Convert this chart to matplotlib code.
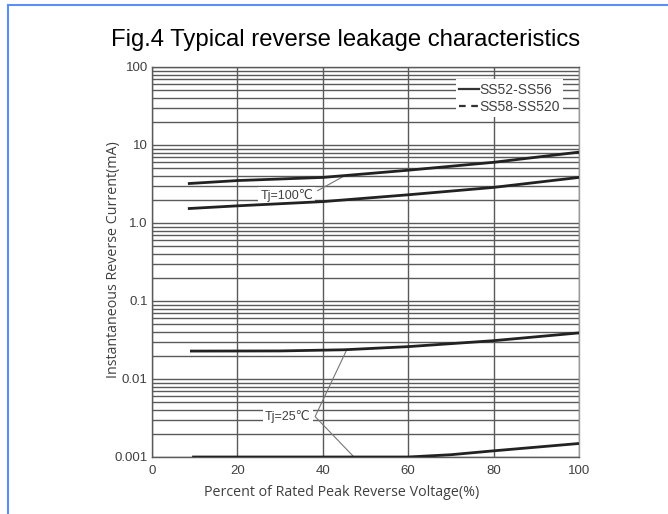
import matplotlib
matplotlib.use("Agg")
import matplotlib.pyplot as plt
from matplotlib.lines import Line2D
from matplotlib.ticker import FixedLocator, NullFormatter

# curves: percent of rated voltage vs current (mA)
hot_a_x = [8.4, 20, 40, 60, 80, 100]
hot_a_y = [3.2, 3.5, 3.84, 4.75, 6.0, 8.1]
hot_b_x = [8.4, 20, 40, 60, 80, 100]
hot_b_y = [1.53, 1.66, 1.88, 2.3, 2.86, 3.84]
cold_a_x = [8.9, 30, 45, 60, 80, 100]
cold_a_y = [0.0228, 0.0229, 0.0237, 0.026, 0.031, 0.039]
cold_b_x = [9.4, 50, 60, 70, 80, 100]
cold_b_y = [0.001, 0.001, 0.001, 0.00107, 0.0012, 0.00149]

x_ticks = [0, 20, 40, 60, 80, 100]
y_ticks = [0.001, 0.01, 0.1, 1, 10, 100]
y_labels = ["0.001", "0.01", "0.1", "1.0", "10", "100"]
series_names = ["SS52-SS56", "SS58-SS520"]

grid_c = "#5a5a5a"
txt_c = "#404040"
curve_c = "#222222"

fig = plt.figure(figsize=(6.68, 5.14), dpi=100)
ax = fig.add_axes([152 / 668, 1 - 457 / 514, 427 / 668, 390 / 514])

ax.set_yscale("log")
ax.set_xlim(0, 100)
ax.set_ylim(0.001, 100)

minor = [m * 10.0 ** e for e in range(-3, 2) for m in range(2, 10)]
ax.yaxis.set_minor_locator(FixedLocator(minor))
ax.yaxis.set_minor_formatter(NullFormatter())
ax.set_yticks(y_ticks)
ax.set_yticklabels(y_labels)
ax.set_xticks(x_ticks)
ax.tick_params(which="both", length=0, labelsize=9.5, colors=txt_c)
ax.tick_params(axis="x", pad=6)
ax.tick_params(axis="y", pad=3)
for lab in ax.get_xticklabels() + ax.get_yticklabels():
    lab.set_family("Liberation Sans")

ax.grid(True, which="major", color=grid_c, lw=1.0)
ax.grid(True, which="minor", axis="y", color=grid_c, lw=1.0)
for s in ax.spines.values():
    s.set_color(grid_c)
    s.set_linewidth(1.0)
ax.spines["right"].set_color("#9a9a9a")

ax.plot(hot_a_x, hot_a_y, color=curve_c, lw=2, solid_capstyle="butt", zorder=3)
ax.plot(hot_b_x, hot_b_y, color=curve_c, lw=2, solid_capstyle="butt", zorder=3)
ax.plot(cold_a_x, cold_a_y, color=curve_c, lw=2, solid_capstyle="butt", zorder=3)
ax.plot(cold_b_x, cold_b_y, color=curve_c, lw=2, solid_capstyle="butt", zorder=3)

# temperature labels with leader lines
lead = dict(color="#777777", lw=0.8, zorder=2.5)
box = dict(facecolor="white", edgecolor="none", pad=1.5)
ax.text(31.6, 2.25, "Tj=100\u2103", ha="center", va="center", fontsize=9,
        color=txt_c, bbox=box, family=["Liberation Sans", "DejaVu Sans"], zorder=2)
ax.plot([38.8, 44.7], [2.6, 3.92], **lead)
ax.text(31.8, 0.0033, "Tj=25\u2103", ha="center", va="center", fontsize=9,
        color=txt_c, bbox=box, family=["Liberation Sans", "DejaVu Sans"], zorder=2)
ax.plot([45.6, 38.2, 47.3], [0.0237, 0.0033, 0.001], **lead)

handles = [Line2D([], [], color="#333333", lw=1.6),
           Line2D([], [], color="#333333", lw=1.6, ls=(0, (3, 2.5)))]
leg = ax.legend(handles, series_names, loc="upper left", bbox_to_anchor=(0.712, 0.968),
                frameon=True, fancybox=False, borderpad=0.25, handlelength=1.4,
                handletextpad=0.0, labelspacing=0.2, borderaxespad=0,
                prop={"family": "Liberation Sans", "size": 10})
leg.get_frame().set_edgecolor("none")
leg.get_frame().set_facecolor("white")
leg.get_frame().set_alpha(1)
for t in leg.get_texts():
    t.set_color(txt_c)

ax.set_xlabel("Percent of Rated Peak Reverse Voltage(%)", family="Open Sans",
              fontsize=10.3, color=txt_c)
ax.xaxis.set_label_coords((342 - 152) / 427, -(492 - 457) / 390)
ax.set_ylabel("Instantaneous Reverse Current(mA)", family="Open Sans",
              fontsize=10.3, color=txt_c)
ax.yaxis.set_label_coords(-(152 - 113) / 427, (457 - 260) / 390)
ax.xaxis.label.set_va("center")
ax.yaxis.label.set_va("center")

fig.text(346 / 668, 1 - 40 / 514, "Fig.4 Typical reverse leakage characteristics",
         ha="center", va="center", fontsize=17.2, family="Liberation Sans", color="black")

# blue frame around the picture
blue = "#5b8ff5"
fig.add_artist(Line2D([8 / 668, 1], [1 - 5 / 514, 1 - 5 / 514], color=blue, lw=1.5,
                      transform=fig.transFigure))
fig.add_artist(Line2D([8 / 668, 8 / 668], [0, 1 - 5 / 514], color=blue, lw=1.5,
                      transform=fig.transFigure))

fig.savefig("out.png", dpi=100)
